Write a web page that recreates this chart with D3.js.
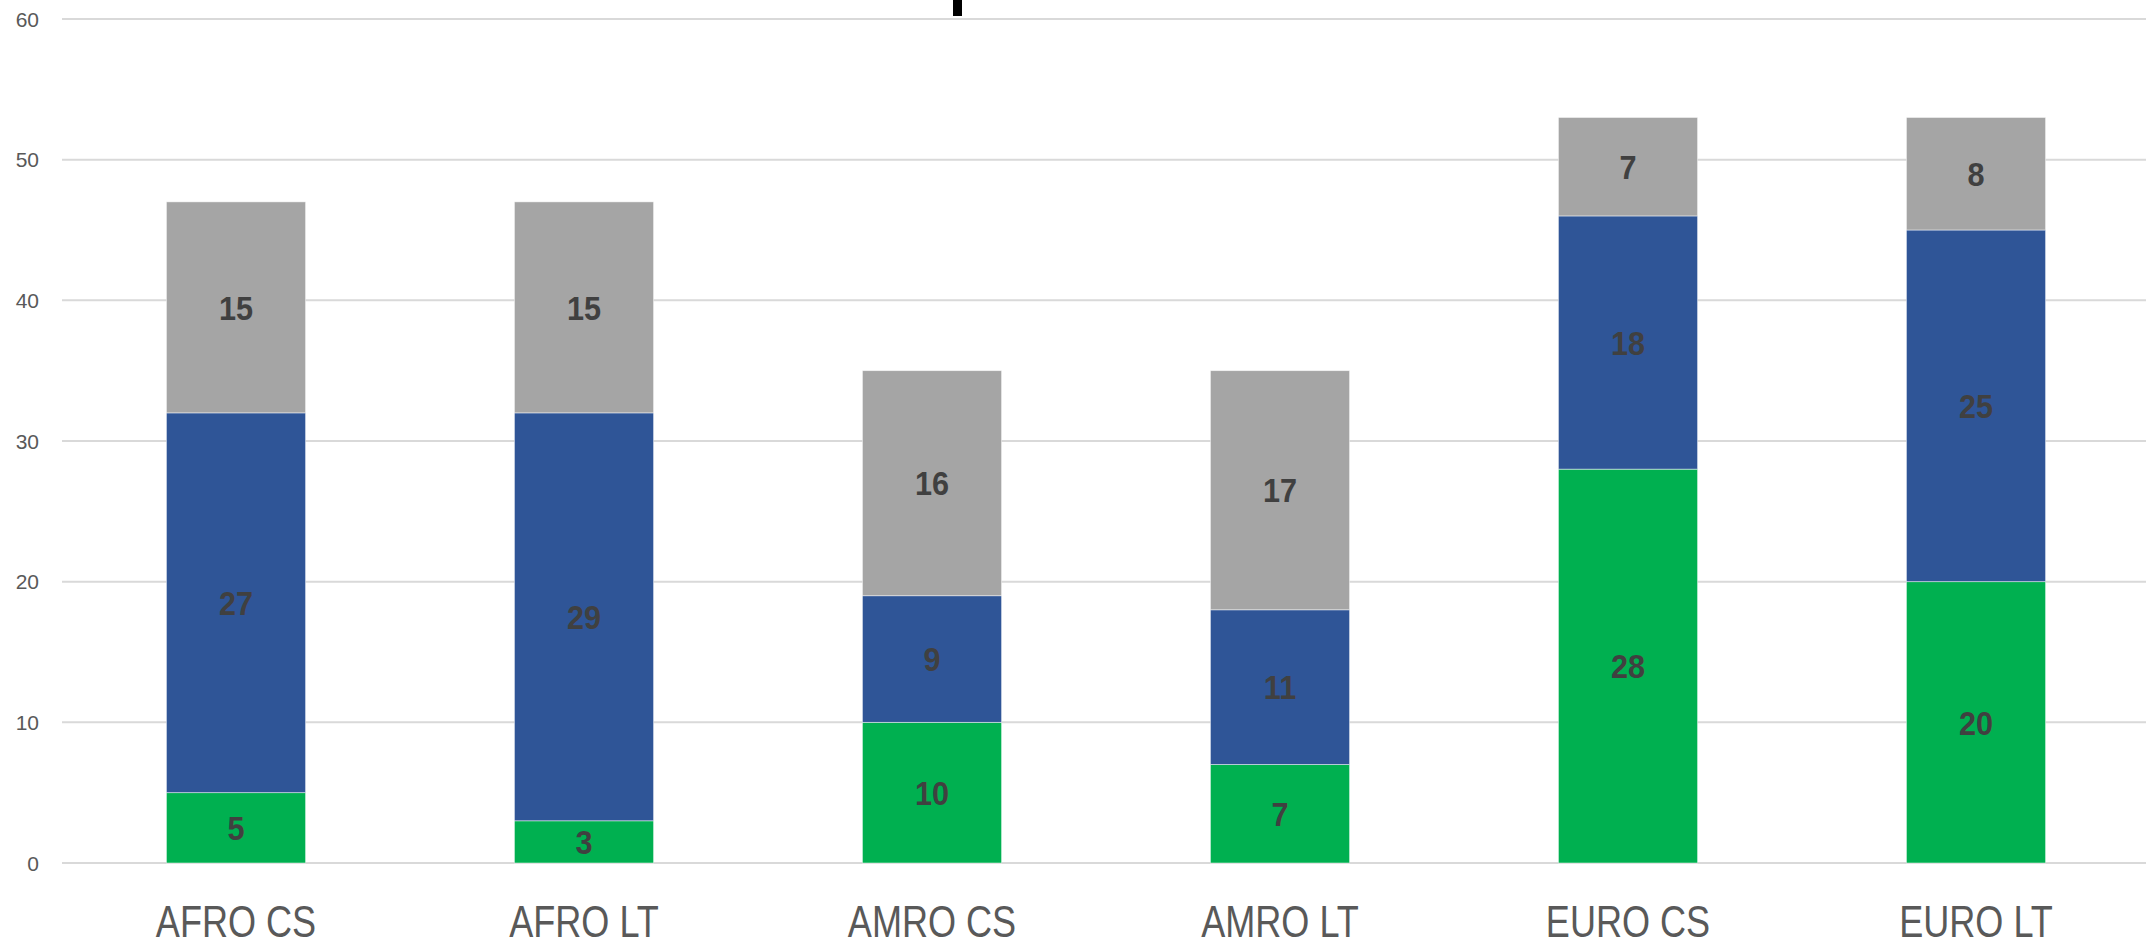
<!DOCTYPE html>
<html>
<head>
<meta charset="utf-8">
<script src="https://cdn.jsdelivr.net/npm/d3@7"></script>
<style>
  html, body { margin: 0; padding: 0; background: #fff; }
  svg { display: block; }
</style>
</head>
<body>
<svg id="chart" width="2146" height="946"></svg>
<script>
const categories = ["AFRO CS", "AFRO LT", "AMRO CS", "AMRO LT", "EURO CS", "EURO LT"];
const seriesNames = ["green", "blue", "gray"];
const greenValues = [5, 3, 10, 7, 28, 20];
const blueValues  = [27, 29, 9, 11, 18, 25];
const grayValues  = [15, 15, 16, 17, 7, 8];
const yTicks = [0, 10, 20, 30, 40, 50, 60];
const colors = { green: "#00B050", blue: "#2F5597", gray: "#A5A5A5" };

(function () {
const rows = categories.map((c, i) => ({ cat: c, green: greenValues[i], blue: blueValues[i], gray: grayValues[i] }));

const svg = d3.select("#chart");
const W = 2146;
const plotLeft = 62, plotRight = 2150, plotTop = 19, plotBottom = 863;

const x = d3.scaleBand().domain(categories).range([plotLeft, plotRight]).paddingInner(0.6).paddingOuter(0.3);
const y = d3.scaleLinear().domain([0, 60]).range([plotBottom, plotTop]);

// gridlines
svg.append("g").selectAll("line").data(yTicks).join("line")
  .attr("x1", plotLeft).attr("x2", W)
  .attr("y1", d => y(d)).attr("y2", d => y(d))
  .attr("stroke", "#D9D9D9").attr("stroke-width", 2);

// y tick labels
svg.append("g").selectAll("text").data(yTicks).join("text")
  .attr("x", 39).attr("y", d => y(d))
  .attr("dy", "0.36em")
  .attr("text-anchor", "end")
  .attr("font-family", "'Liberation Sans', Arial, sans-serif")
  .attr("font-size", 21)
  .attr("fill", "#595959")
  .text(d => d);

// stacked bars
const stack = d3.stack().keys(seriesNames)(rows);
const layers = svg.append("g").selectAll("g").data(stack).join("g")
  .attr("fill", d => colors[d.key]);
layers.selectAll("rect").data(d => d).join("rect")
  .attr("x", d => x(d.data.cat))
  .attr("width", x.bandwidth())
  .attr("y", d => y(d[1]))
  .attr("height", d => y(d[0]) - y(d[1]))
  .attr("stroke", "#ffffff").attr("stroke-width", 0.8).attr("stroke-opacity", 0.6);

// data labels
const labels = svg.append("g");
stack.forEach(layer => {
  labels.append("g").selectAll("text").data(layer).join("text")
    .attr("transform", d => `translate(${x(d.data.cat) + x.bandwidth() / 2},${y((d[0] + d[1]) / 2)}) scale(0.9,1)`)
    .attr("dy", "0.36em")
    .attr("text-anchor", "middle")
    .attr("font-family", "'Liberation Sans', Arial, sans-serif")
    .attr("font-weight", "bold")
    .attr("font-size", 34)
    .attr("fill", "#404040")
    .text(d => d[1] - d[0]);
});

// x category labels
svg.append("g").selectAll("text").data(categories).join("text")
  .attr("transform", d => `translate(${x(d) + x.bandwidth() / 2},937) scale(0.82,1)`)
  .attr("text-anchor", "middle")
  .attr("font-family", "'Liberation Sans', Arial, sans-serif")
  .attr("font-size", 44)
  .attr("fill", "#595959")
  .text(d => d);

// small black mark at the top (cut-off element in the reference)
svg.append("rect")
  .attr("x", 953).attr("y", 0)
  .attr("width", 9).attr("height", 16)
  .attr("fill", "#000");
})();
</script>
</body>
</html>
